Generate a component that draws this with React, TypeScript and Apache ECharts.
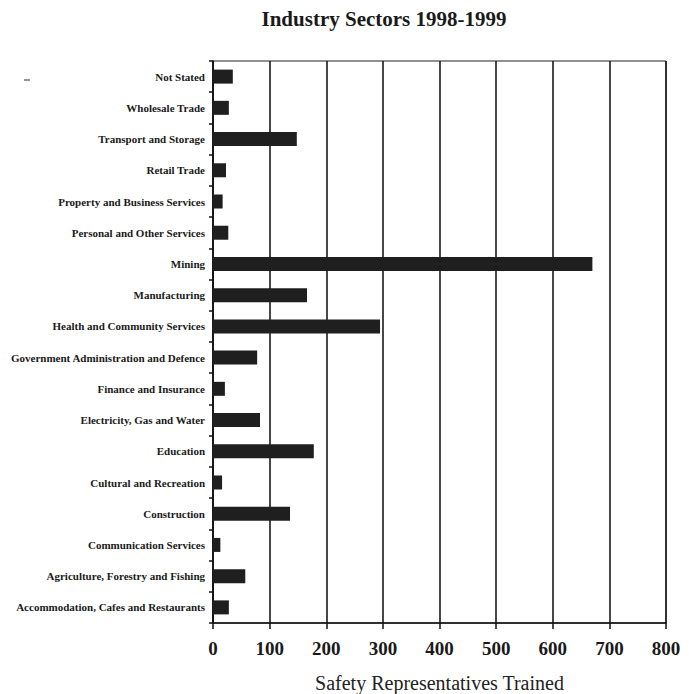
import React, { useEffect, useRef } from "react";
import * as echarts from "echarts";

const categories = [
  "Not Stated",
  "Wholesale Trade",
  "Transport and Storage",
  "Retail Trade",
  "Property and Business Services",
  "Personal and Other Services",
  "Mining",
  "Manufacturing",
  "Health and Community Services",
  "Government Administration and Defence",
  "Finance and Insurance",
  "Electricity, Gas and Water",
  "Education",
  "Cultural and Recreation",
  "Construction",
  "Communication Services",
  "Agriculture, Forestry and Fishing",
  "Accommodation, Cafes and Restaurants",
];

const trained = [35, 28, 148, 23, 17, 27, 670, 166, 295, 78, 21, 83, 178, 16, 136, 13, 57, 28];

const titleText = "Industry Sectors 1998-1999";
const xAxisTitle = "Safety Representatives Trained";

export default function App() {
  const ref = useRef<HTMLDivElement>(null);
  useEffect(() => {
    if (!ref.current) return;
    const chart = echarts.init(ref.current, null, { renderer: "svg" });
    chart.setOption({
      animation: false,
      backgroundColor: "#ffffff",
      title: {
        text: titleText,
        left: 376,
        top: 0,
        padding: 0,
        textAlign: "center",
        textStyle: {
          fontFamily: "Liberation Serif",
          fontWeight: "bold",
          fontSize: 21,
          color: "#1a1a1a",
        },
      },
      grid: {
        left: 205,
        right: 26,
        top: 53,
        bottom: 71,
        outerBoundsMode: "none",
        containLabel: false,
        show: true,
        borderColor: "#222",
        borderWidth: 1,
      },
      xAxis: {
        type: "value",
        min: 0,
        max: 800,
        interval: 100,
        name: xAxisTitle,
        nameLocation: "middle",
        nameGap: 50,
        nameTextStyle: {
          fontFamily: "Liberation Serif",
          fontSize: 20,
          color: "#222",
        },
        axisLine: { show: true, lineStyle: { color: "#111", width: 1.5 } },
        axisTick: { show: true, length: 6, lineStyle: { color: "#111", width: 1.5 } },
        axisLabel: {
          fontFamily: "Liberation Serif",
          fontWeight: "bold",
          fontSize: 19,
          color: "#1a1a1a",
          margin: 16,
        },
        splitLine: { show: true, lineStyle: { color: "#1a1a1a", width: 1.6 } },
      },
      yAxis: {
        type: "category",
        data: categories,
        inverse: true,
        axisLine: { show: true, lineStyle: { color: "#111", width: 1.5 } },
        axisTick: { show: true, length: 4, lineStyle: { color: "#111", width: 1.5 } },
        axisLabel: {
          fontFamily: "Liberation Serif",
          fontWeight: "bold",
          fontSize: 11,
          color: "#1a1a1a",
          margin: 8,
        },
        splitLine: { show: false },
      },
      series: [
        {
          type: "bar",
          data: trained,
          barWidth: 14,
          itemStyle: { color: "#1f1f1f" },
        },
      ],
      graphic: [
        {
          type: "line",
          shape: { x1: 16, y1: 72, x2: 22, y2: 72 },
          style: { stroke: "#333", lineWidth: 1 },
        },
      ],
    });
    return () => chart.dispose();
  }, []);
  return <div ref={ref} style={{ width: 684, height: 686 }} />;
}
